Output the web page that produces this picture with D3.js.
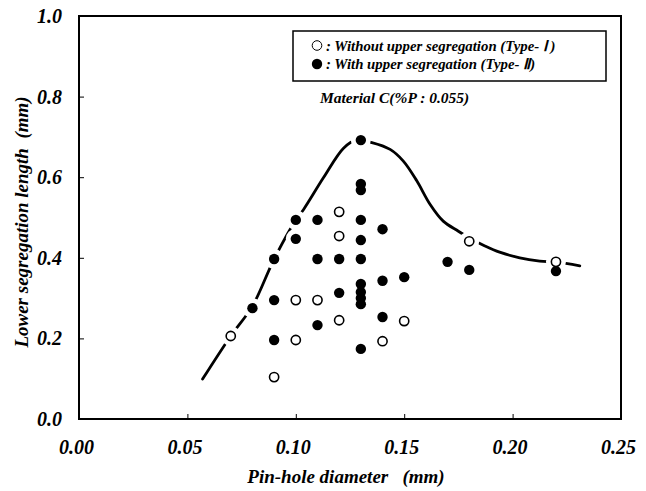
<!DOCTYPE html>
<html>
<head>
<meta charset="utf-8">
<script src="https://cdn.jsdelivr.net/npm/d3@7"></script>
<style>
body{margin:0;background:#fff}
</style>
</head>
<body>
<div id="chart"></div>
<script>
// valeurs (Material C)
var xTicks=[0,0.05,0.10,0.15,0.20,0.25]
var yTicks=[0,0.2,0.4,0.6,0.8,1.0]
// Type-I : sans ségrégation haute (cercles vides)
var typeI=[[0.07,0.206],[0.09,0.104],[0.10,0.295],[0.10,0.196],[0.11,0.295],[0.12,0.514],
  [0.12,0.454],[0.12,0.245],[0.14,0.193],[0.15,0.243],[0.18,0.441],[0.22,0.390]]
// Type-II : avec ségrégation haute (cercles pleins)
var typeII=[[0.08,0.275],[0.09,0.397],[0.09,0.295],[0.09,0.196],[0.10,0.494],[0.10,0.447],
  [0.11,0.494],[0.11,0.397],[0.11,0.233],[0.12,0.397],[0.12,0.313],[0.13,0.692],[0.13,0.583],
  [0.13,0.568],[0.13,0.494],[0.13,0.444],[0.13,0.397],[0.13,0.335],[0.13,0.315],[0.13,0.300],
  [0.13,0.285],[0.13,0.174],[0.14,0.471],[0.14,0.343],[0.14,0.253],[0.15,0.352],[0.17,0.390],
  [0.18,0.370],[0.22,0.367]]
// courbe enveloppe tracée à la main
var envelope=[[0.057,0.099],[0.070,0.206],[0.080,0.280],[0.090,0.397],[0.100,0.494],[0.1036,0.520],
  [0.1128,0.599],[0.122,0.672],[0.1277,0.692],[0.1351,0.686],[0.1435,0.669],[0.1496,0.640],
  [0.1558,0.591],[0.1619,0.533],[0.168,0.491],[0.175,0.466],[0.180,0.449],[0.187,0.430],
  [0.194,0.414],[0.2033,0.400],[0.2125,0.392],[0.2202,0.389],[0.231,0.380]]

const width=646, height=491
const pLeft=79, pRight=621, pTop=16, pBottom=419
const serif='"Liberation Serif","Times New Roman",Times,serif'

let svg=d3.select("#chart").append("svg").attr("width",width).attr("height",height)

let x=d3.scaleLinear().domain([0,0.25]).range([pLeft,pRight])
let y=d3.scaleLinear().domain([0,1]).range([pBottom,pTop])

// axes (ticks vers l'intérieur)
let gx=svg.append("g").attr("transform","translate(0,"+pBottom+")")
  .call(d3.axisBottom(x).tickValues(xTicks).tickSize(-5).tickPadding(21).tickFormat(d3.format(".2f")))
let gy=svg.append("g").attr("transform","translate("+pLeft+",0)")
  .call(d3.axisLeft(y).tickValues(yTicks).tickSize(-5).tickPadding(17).tickFormat(d3.format(".1f")))
;[gx,gy].forEach(function(g){
  g.attr("font-family",serif).attr("font-size",20)
  g.select(".domain").remove()
  g.selectAll(".tick line").attr("stroke","#000").attr("stroke-width",1)
  g.selectAll(".tick text").attr("fill","#000")
})
gx.selectAll(".tick text").attr("dx",-3)

// cadre
svg.append("rect").attr("x",pLeft).attr("y",pTop).attr("width",pRight-pLeft).attr("height",pBottom-pTop)
  .attr("fill","none").attr("stroke","#000").attr("stroke-width",2)

// titres des axes
svg.append("text").attr("x",346).attr("y",483).attr("text-anchor","middle")
  .style("font-size","19px").attr("xml:space","preserve").text("Pin-hole diameter   (mm)")
svg.append("text").attr("transform","translate(28,222) rotate(-90)").attr("text-anchor","middle")
  .style("font-size","19px").attr("xml:space","preserve").text("Lower segregation length  (mm)")

// courbe
let line=d3.line().x(d=>x(d[0])).y(d=>y(d[1])).curve(d3.curveCatmullRom.alpha(0.5))
svg.append("path").datum(envelope).attr("d",line)
  .attr("fill","none").attr("stroke","#000").attr("stroke-width",2.8).attr("stroke-linecap","round")

// halos blancs qui coupent la courbe autour des points
let all=typeI.concat(typeII)
svg.append("g").selectAll("circle").data(all).enter().append("circle")
  .attr("cx",d=>x(d[0])).attr("cy",d=>y(d[1])).attr("r",10).attr("fill","#fff")

svg.append("g").selectAll("circle").data(typeII).enter().append("circle")
  .attr("cx",d=>x(d[0])).attr("cy",d=>y(d[1])).attr("r",5.2).attr("fill","#000")
svg.append("g").selectAll("circle").data(typeI).enter().append("circle")
  .attr("cx",d=>x(d[0])).attr("cy",d=>y(d[1])).attr("r",4.6)
  .attr("fill","#fff").attr("stroke","#000").attr("stroke-width",1.6)

// légende
let lg=svg.append("g")
lg.append("rect").attr("x",293).attr("y",31).attr("width",313).attr("height",50)
  .attr("fill","#fff").attr("stroke","#000").attr("stroke-width",1.5)
lg.append("circle").attr("cx",317).attr("cy",45.5).attr("r",4.8).attr("fill","#fff").attr("stroke","#000").attr("stroke-width",1)
lg.append("circle").attr("cx",317).attr("cy",64).attr("r",5.2).attr("fill","#000")
lg.append("text").attr("x",326).attr("y",50.5).style("font-size","14.8px").text(": Without upper segregation (Type- \u2160 )")
lg.append("text").attr("x",326).attr("y",69).style("font-size","14.8px").text(": With upper segregation (Type- \u2161)")

svg.append("text").attr("x",320).attr("y",103).style("font-size","15.5px").text("Material C(%P : 0.055)")

svg.selectAll("text").style("font-family",serif).style("font-weight","bold").style("font-style","italic").attr("fill","#000")
</script>
</body>
</html>
